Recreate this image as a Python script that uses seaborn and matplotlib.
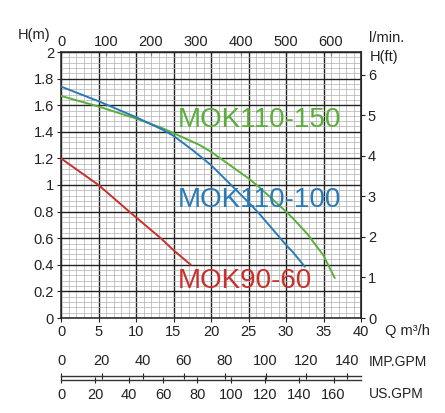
import matplotlib
matplotlib.use("Agg")
import matplotlib.pyplot as plt
from matplotlib.ticker import MultipleLocator, FuncFormatter
import pandas as pd
import seaborn as sns

sns.set_style("white")
plt.rcParams["font.family"] = ["Liberation Sans", "DejaVu Sans"]

# pump curves, Q in m3/h, H in m
q_90_60 = [0, 5, 9.1, 13.3, 15, 17.3]
h_90_60 = [1.2, 1.0, 0.8, 0.6, 0.51, 0.40]
q_110_100 = [0, 5, 10, 13.4, 15, 17.6, 20, 22.5, 25, 26.5, 30, 31, 32.5]
h_110_100 = [1.74, 1.63, 1.51, 1.42, 1.37, 1.26, 1.15, 1.01, 0.87, 0.78, 0.55, 0.49, 0.386]
q_110_150 = [0, 5, 10, 13.4, 15, 18.5, 20, 22.5, 25, 26.5, 30, 31, 32.8, 35, 36.5]
h_110_150 = [1.67, 1.59, 1.50, 1.43, 1.39, 1.30, 1.25, 1.15, 1.05, 0.98, 0.80, 0.745, 0.635, 0.47, 0.30]

names = ["MOK110-150", "MOK110-100", "MOK90-60"]
colors = {"MOK110-150": "#5aae3c", "MOK110-100": "#2a7ab8", "MOK90-60": "#c8302c"}
label_pos = {"MOK110-150": (15.6, 1.49), "MOK110-100": (15.6, 0.885), "MOK90-60": (15.6, 0.28)}

imp_ticks = [0, 20, 40, 60, 80, 100, 120, 140]
us_ticks = [0, 20, 40, 60, 80, 100, 120, 140, 160]

df = pd.concat([
    pd.DataFrame({"Q": q_110_150, "H": h_110_150, "model": "MOK110-150"}),
    pd.DataFrame({"Q": q_110_100, "H": h_110_100, "model": "MOK110-100"}),
    pd.DataFrame({"Q": q_90_60, "H": h_90_60, "model": "MOK90-60"}),
])

W, H = 445, 413
fig = plt.figure(figsize=(W / 100, H / 100), dpi=100)
x0, x1, yt, yb = 61, 361, 52, 318
ax = fig.add_axes([x0 / W, 1 - yb / H, (x1 - x0) / W, (yb - yt) / H])

sns.lineplot(data=df, x="Q", y="H", hue="model", palette=colors, sort=False,
             estimator=None, lw=1.4, legend=False, ax=ax, zorder=5)

ax.set_xlim(0, 40); ax.set_ylim(0, 2)
ax.xaxis.set_major_locator(MultipleLocator(5)); ax.xaxis.set_minor_locator(MultipleLocator(1))
ax.yaxis.set_major_locator(MultipleLocator(0.2)); ax.yaxis.set_minor_locator(MultipleLocator(0.04))
ax.yaxis.set_major_formatter(FuncFormatter(lambda v, p: f"{v:g}"))
ax.grid(which="major", color="#222222", lw=1.0)
ax.grid(which="minor", color="#b0b0b0", lw=0.5)
ax.set_xlabel(""); ax.set_ylabel("")
for s in ax.spines.values():
    s.set_color("#222"); s.set_linewidth(1.1)
ax.tick_params(which="major", length=3, width=0.8, labelsize=10.5, colors="#222",
               left=True, bottom=True, pad=2)
ax.tick_params(which="minor", length=0)

for name in names:
    xq, yh = label_pos[name]
    ax.text(xq, yh, name, color=colors[name], fontsize=20, va="center", ha="left", zorder=6)

top = ax.secondary_xaxis("top", functions=(lambda q: q * 1000 / 60, lambda l: l * 60 / 1000))
top.set_xticks([0, 100, 200, 300, 400, 500, 600])
top.tick_params(direction="in", length=3, labelsize=10.5, colors="#222", pad=2)
right = ax.secondary_yaxis("right", functions=(lambda m: m * 3.2808, lambda f: f / 3.2808))
right.set_yticks([0, 1, 2, 3, 4, 5, 6])
right.tick_params(direction="out", length=3, labelsize=10.5, colors="#222", pad=2)

fig.text(18 / W, 1 - 35 / H, "H(m)", fontsize=10.5, color="#222", va="center")
fig.text(369 / W, 1 - 38 / H, "l/min.", fontsize=10.5, color="#222", va="center")
fig.text(370 / W, 1 - 57 / H, "H(ft)", fontsize=10.5, color="#222", va="center")
fig.text(385 / W, 1 - 331 / H, "Q m\u00b3/h", fontsize=10.5, color="#222", va="center")

# flow scales in gallons
ax_imp = fig.add_axes([x0 / W, 1 - 376 / H, (x1 - x0) / W, 0.0001])
ax_imp.set_xlim(0, 40 * 1000 / 60 / 4.546)
ax_imp.set_xticks(imp_ticks)
ax_imp.set_yticks([])
for k in ["left", "right", "top"]:
    ax_imp.spines[k].set_visible(False)
ax_imp.spines["bottom"].set_color("#333"); ax_imp.spines["bottom"].set_linewidth(1)
ax_imp.tick_params(axis="x", direction="inout", length=4, labelsize=10.5, colors="#222",
                   bottom=True, top=False, labelbottom=False, labeltop=True, pad=4)
ax_imp.patch.set_alpha(0)

ax_us = fig.add_axes([x0 / W, 1 - 380 / H, (x1 - x0) / W, 0.0001])
ax_us.set_xlim(0, 40 * 1000 / 60 / 3.785)
ax_us.set_xticks(us_ticks)
ax_us.set_yticks([])
for k in ["left", "right", "bottom"]:
    ax_us.spines[k].set_visible(False)
ax_us.spines["top"].set_color("#333"); ax_us.spines["top"].set_linewidth(1)
ax_us.tick_params(axis="x", direction="inout", length=4, labelsize=10.5, colors="#222",
                  bottom=True, top=False, labelbottom=True, labeltop=False, pad=4)
ax_us.patch.set_alpha(0)

fig.text(369 / W, 1 - 362 / H, "IMP.GPM", fontsize=10, color="#222", va="center")
fig.text(369 / W, 1 - 394 / H, "US.GPM", fontsize=10, color="#222", va="center")

fig.savefig("out.png", dpi=100)
